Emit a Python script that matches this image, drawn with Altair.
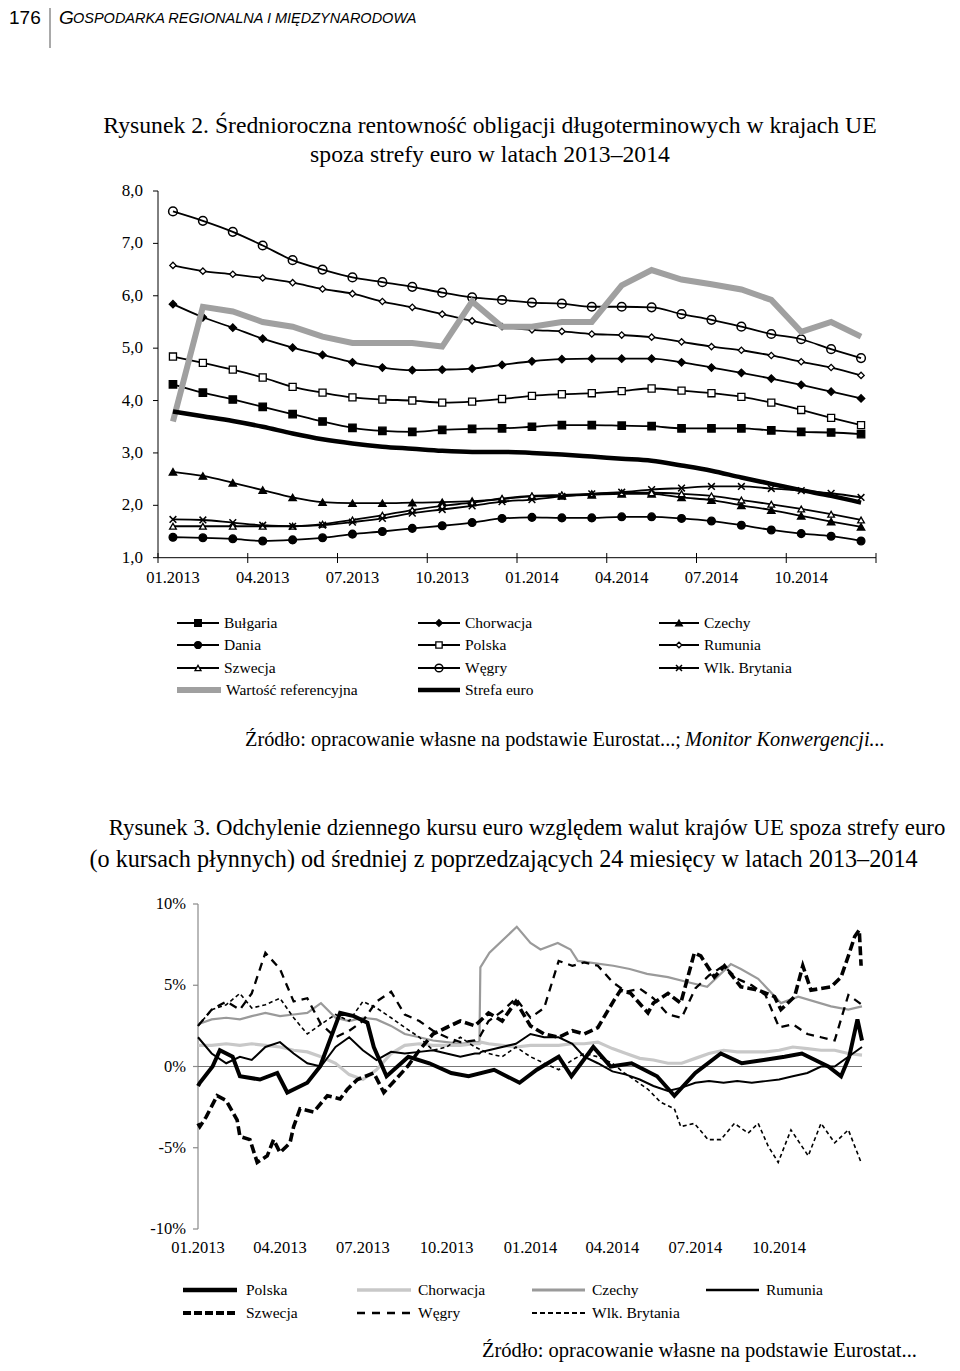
import altair as alt
import pandas as pd

SERIF = "Liberation Serif"
SANS = "Liberation Sans"


def cx(p):
    return p - 8


def cy(p):
    return p - 8


# ---------------- Rysunek 2: monthly yields ----------------
months = ["01.2013", "02.2013", "03.2013", "04.2013", "05.2013", "06.2013",
          "07.2013", "08.2013", "09.2013", "10.2013", "11.2013", "12.2013",
          "01.2014", "02.2014", "03.2014", "04.2014", "05.2014", "06.2014",
          "07.2014", "08.2014", "09.2014", "10.2014", "11.2014", "12.2014"]
top_tick_labels = ["01.2013", "04.2013", "07.2013", "10.2013",
                   "01.2014", "04.2014", "07.2014", "10.2014"]
top_y_ticks = [1, 2, 3, 4, 5, 6, 7, 8]
top_y_labels = ["1,0", "2,0", "3,0", "4,0", "5,0", "6,0", "7,0", "8,0"]

bulgaria = [4.31, 4.15, 4.02, 3.88, 3.74, 3.60, 3.48, 3.42, 3.40, 3.44, 3.46, 3.47,
            3.50, 3.53, 3.53, 3.52, 3.51, 3.47, 3.47, 3.47, 3.43, 3.40, 3.39, 3.36]
chorwacja = [5.84, 5.59, 5.39, 5.18, 5.01, 4.87, 4.73, 4.63, 4.58, 4.59, 4.61, 4.68,
             4.75, 4.79, 4.80, 4.80, 4.80, 4.73, 4.63, 4.53, 4.42, 4.30, 4.17, 4.04]
czechy = [2.64, 2.56, 2.43, 2.29, 2.15, 2.06, 2.04, 2.04, 2.05, 2.06, 2.08, 2.12,
          2.17, 2.18, 2.20, 2.22, 2.22, 2.15, 2.10, 2.00, 1.91, 1.80, 1.69, 1.59]
dania = [1.39, 1.38, 1.36, 1.32, 1.34, 1.38, 1.45, 1.50, 1.56, 1.61, 1.67, 1.75,
         1.77, 1.76, 1.76, 1.78, 1.78, 1.75, 1.70, 1.62, 1.53, 1.46, 1.41, 1.32]
polska = [4.84, 4.72, 4.59, 4.44, 4.26, 4.15, 4.06, 4.02, 4.00, 3.96, 3.98, 4.03,
          4.09, 4.12, 4.14, 4.18, 4.23, 4.19, 4.14, 4.07, 3.96, 3.82, 3.67, 3.53]
rumunia = [6.58, 6.47, 6.41, 6.34, 6.25, 6.13, 6.04, 5.89, 5.78, 5.65, 5.52, 5.41,
           5.35, 5.32, 5.27, 5.25, 5.21, 5.12, 5.03, 4.96, 4.86, 4.74, 4.63, 4.48]
szwecja = [1.60, 1.60, 1.60, 1.60, 1.60, 1.64, 1.72, 1.81, 1.91, 1.99, 2.05, 2.13,
           2.18, 2.20, 2.22, 2.24, 2.24, 2.22, 2.18, 2.10, 2.02, 1.93, 1.83, 1.72]
wegry = [7.61, 7.43, 7.22, 6.96, 6.68, 6.50, 6.35, 6.26, 6.17, 6.06, 5.97, 5.92,
         5.87, 5.85, 5.79, 5.79, 5.78, 5.65, 5.54, 5.41, 5.27, 5.17, 4.98, 4.81]
wlk_brytania = [1.73, 1.72, 1.67, 1.62, 1.60, 1.62, 1.68, 1.75, 1.85, 1.92, 1.99, 2.07,
                2.11, 2.17, 2.22, 2.25, 2.30, 2.33, 2.36, 2.36, 2.32, 2.28, 2.23, 2.15]
wartosc_ref = [3.60, 5.79, 5.70, 5.50, 5.41, 5.22, 5.10, 5.10, 5.10, 5.03, 5.89, 5.41,
               5.41, 5.50, 5.50, 6.20, 6.49, 6.31, 6.22, 6.12, 5.92, 5.31, 5.50, 5.22]
strefa_euro = [3.79, 3.70, 3.61, 3.50, 3.37, 3.26, 3.18, 3.12, 3.08, 3.04, 3.02, 3.02,
               3.00, 2.97, 2.93, 2.89, 2.85, 2.76, 2.66, 2.53, 2.41, 2.29, 2.18, 2.05]

# ---------------- Rysunek 3: deviation of EUR rate (%) ----------------
dates = ["2013-01-01", "2013-01-16", "2013-02-01", "2013-02-16", "2013-03-01", "2013-03-16",
         "2013-04-01", "2013-04-16", "2013-05-01", "2013-05-16", "2013-06-01", "2013-06-16",
         "2013-07-01", "2013-07-16", "2013-08-01", "2013-08-16", "2013-09-01", "2013-09-16",
         "2013-10-01", "2013-10-16", "2013-11-01", "2013-11-06", "2013-11-08", "2013-11-16",
         "2013-12-01", "2013-12-16",
         "2014-01-01", "2014-01-16", "2014-02-01", "2014-02-16", "2014-03-01", "2014-03-16",
         "2014-04-01", "2014-04-16", "2014-05-01", "2014-05-16", "2014-06-01", "2014-06-16",
         "2014-07-01", "2014-07-16", "2014-08-01", "2014-08-16", "2014-09-01", "2014-09-16",
         "2014-10-01", "2014-10-16", "2014-11-01", "2014-11-16", "2014-12-01", "2014-12-16",
         "2014-12-31"]
bottom_tick_dates = ["2013-01-01", "2013-04-01", "2013-07-01", "2013-10-01",
                     "2014-01-01", "2014-04-01", "2014-07-01", "2014-10-01"]
bottom_tick_labels = top_tick_labels
bottom_y_ticks = [-10, -5, 0, 5, 10]
bottom_y_labels = ["-10%", "-5%", "0%", "5%", "10%"]

polska_dates = ["2013-01-01", "2013-01-03", "2013-01-17", "2013-01-25", "2013-02-08", "2013-02-16",
                "2013-03-10", "2013-03-29", "2013-04-09", "2013-05-01", "2013-05-15", "2013-06-06",
                "2013-06-21", "2013-07-06", "2013-07-13", "2013-07-27", "2013-08-20", "2013-09-12",
                "2013-10-06", "2013-10-25", "2013-11-22", "2013-12-20", "2014-01-08", "2014-02-01",
                "2014-02-15", "2014-03-11", "2014-03-30", "2014-04-22", "2014-05-20", "2014-06-08",
                "2014-07-01", "2014-07-29", "2014-08-21", "2014-09-14", "2014-10-07", "2014-10-26",
                "2014-11-24", "2014-12-08", "2014-12-17", "2014-12-26", "2014-12-31"]
d_polska = [-1.2, -1.0, 0.0, 1.0, 0.6, -0.6,
            -0.8, -0.4, -1.6, -1.0, 0.0, 3.3,
            3.1, 2.7, 1.2, -0.6, 0.6, 0.2,
            -0.4, -0.6, -0.2, -1.0, -0.2, 0.6,
            -0.6, 1.2, 0.0, 0.2, -0.6, -1.8,
            -0.4, 0.8, 0.2, 0.4, 0.6, 0.8,
            0.0, -0.6, 0.6, 2.9, 1.6]

d_chorwacja = [1.3, 1.3, 1.4, 1.3, 1.4, 1.3, 1.2, 1.0, 0.9, 0.6,
               0.2, -0.5, -0.8, -0.2, 0.8, 1.3, 1.4, 1.3, 1.3, 1.3,
               1.4, 1.4, 1.5, 1.4, 1.3, 1.2,
               1.3, 1.3, 1.3, 1.4, 1.4, 1.5, 1.1, 0.8, 0.5, 0.4,
               0.2, 0.2, 0.5, 0.8, 1.0, 0.9, 0.9, 0.9, 1.0, 1.2,
               1.1, 1.0, 1.0, 0.8, 0.7]

czechy_dates = ["2013-01-01", "2013-01-16", "2013-02-01", "2013-02-16", "2013-03-01", "2013-03-16",
                "2013-04-01", "2013-04-16", "2013-05-01", "2013-05-16", "2013-06-01", "2013-06-16",
                "2013-07-01", "2013-07-16", "2013-08-01", "2013-08-16", "2013-09-01", "2013-09-16",
                "2013-10-01", "2013-10-16", "2013-11-01", "2013-11-06", "2013-11-07", "2013-11-17",
                "2013-12-17", "2014-01-01", "2014-01-12", "2014-01-31", "2014-02-14", "2014-02-22",
                "2014-04-02", "2014-04-20", "2014-05-09", "2014-06-01", "2014-06-22", "2014-07-14",
                "2014-08-09", "2014-08-20", "2014-09-08", "2014-10-03", "2014-10-22", "2014-11-27",
                "2014-12-16", "2014-12-31"]
d_czechy = [2.6, 2.9, 3.0, 2.9, 3.1, 3.3,
            3.1, 3.2, 3.3, 3.9, 3.0, 2.8,
            3.0, 2.9, 2.5, 2.0, 1.8, 1.6,
            1.5, 1.4, 1.5, 1.5, 6.1, 7.0,
            8.6, 7.6, 7.2, 7.6, 7.2, 6.5,
            6.2, 6.0, 5.7, 5.5, 5.2, 4.9,
            6.3, 6.0, 5.4, 3.9, 4.3, 3.7,
            3.5, 3.7]

d_rumunia = [1.8, 0.8, 0.2, 0.6, 0.4, 1.2, 1.5, 0.8, 0.2, 0.0,
             1.2, 1.8, 1.0, 0.4, 0.9, 0.8, 0.9, 1.0, 0.8, 0.6,
             0.8, 0.8, 0.9, 1.0, 1.2, 1.4,
             2.0, 1.8, 1.8, 1.4, 0.6, 0.2, -0.3, -0.5, -0.8, -1.2,
             -1.5, -1.3, -1.0, -0.9, -1.0, -0.9, -1.0, -0.9, -0.8, -0.6,
             -0.4, 0.0, 0.0, 0.6, 1.2]
d_wegry = [2.5, 3.5, 4.0, 3.5, 4.5, 7.0, 6.0, 4.0, 4.2, 2.6,
           1.8, 2.2, 2.8, 4.0, 4.6, 3.2, 2.8, 2.2, 1.8, 1.5,
           1.6, 1.8, 2.0, 2.8, 3.4, 4.2,
           3.0, 3.6, 6.5, 6.2, 6.4, 6.2, 5.2, 4.6, 4.8, 4.2,
           3.2, 3.0, 4.8, 5.6, 6.2, 5.4, 5.0, 4.4, 2.4, 2.6,
           2.0, 1.8, 1.6, 4.4, 3.8]

szwecja_dates = ["2013-01-01", "2013-01-03", "2013-01-10", "2013-01-22", "2013-02-01", "2013-02-13",
                 "2013-02-16", "2013-02-27", "2013-03-07", "2013-03-18", "2013-03-25", "2013-04-01",
                 "2013-04-12", "2013-04-16", "2013-04-23", "2013-05-08", "2013-05-23", "2013-06-06",
                 "2013-06-14", "2013-06-25", "2013-07-13", "2013-07-24", "2013-08-19", "2013-09-01",
                 "2013-09-16", "2013-10-01", "2013-10-16", "2013-11-01", "2013-11-16", "2013-12-01",
                 "2013-12-16", "2014-01-01", "2014-01-16", "2014-02-01", "2014-02-16", "2014-03-01",
                 "2014-03-16", "2014-04-03", "2014-04-10", "2014-04-21", "2014-05-10", "2014-05-16",
                 "2014-06-01", "2014-06-15", "2014-06-30", "2014-07-07", "2014-07-22", "2014-08-02",
                 "2014-08-20", "2014-09-08", "2014-09-26", "2014-10-03", "2014-10-18", "2014-10-27",
                 "2014-11-05", "2014-11-27", "2014-12-08", "2014-12-16", "2014-12-23", "2014-12-28",
                 "2014-12-30"]
d_szwecja = [-3.5, -3.7, -3.1, -1.8, -2.1, -3.3,
             -4.3, -4.5, -5.9, -5.5, -4.5, -5.3,
             -4.7, -3.7, -2.6, -2.8, -1.8, -2.0,
             -1.4, -0.8, -0.4, -1.6, 0.0, 1.0,
             2.0, 2.4, 2.8, 2.5, 3.3, 2.8,
             4.0, 2.5, 2.0, 1.8, 2.2, 2.0,
             2.4, 4.1, 4.7, 4.5, 3.3, 3.9,
             4.5, 3.9, 7.0, 6.8, 5.5, 6.2,
             4.9, 4.7, 4.3, 3.5, 4.3, 6.2,
             4.7, 4.9, 5.5, 6.8, 8.0, 8.4,
             6.2]

wlk_dates = ["2013-01-01", "2013-01-16", "2013-02-01", "2013-02-16", "2013-03-01", "2013-03-16",
             "2013-04-01", "2013-04-16", "2013-05-01", "2013-05-16", "2013-06-01", "2013-06-16",
             "2013-07-01", "2013-07-16", "2013-08-01", "2013-08-16", "2013-09-01", "2013-09-16",
             "2013-10-01", "2013-10-16", "2013-11-01", "2013-11-16", "2013-12-01", "2013-12-16",
             "2014-01-01", "2014-01-16", "2014-02-01", "2014-02-16", "2014-03-01", "2014-03-16",
             "2014-04-01", "2014-04-14", "2014-05-10", "2014-05-24", "2014-06-08", "2014-06-15",
             "2014-06-30", "2014-07-15", "2014-07-29", "2014-08-13", "2014-08-28", "2014-09-08",
             "2014-09-19", "2014-09-30", "2014-10-14", "2014-11-02", "2014-11-16", "2014-12-01",
             "2014-12-16", "2014-12-23", "2014-12-30"]
d_wlk_brytania = [2.5, 3.5, 3.8, 4.5, 3.6, 3.8,
                  4.2, 3.0, 2.0, 2.6, 3.2, 2.8,
                  4.0, 3.6, 3.0, 2.4, 1.8, 1.0,
                  1.2, 1.8, 1.2, 0.8, 0.6, 1.2,
                  0.6, 0.2, -0.2, 0.4, 0.8, 0.6,
                  0.2, -0.4, -1.4, -2.2, -2.6, -3.7,
                  -3.5, -4.5, -4.5, -3.5, -4.1, -3.5,
                  -4.9, -5.9, -3.9, -5.5, -3.5, -4.7,
                  -3.9, -4.9, -5.9]

# ---------------- scales (explicit pixel ranges on one canvas) ----------------
TX = alt.Scale(domain=[0, 24], range=[cx(158), cx(876)], nice=False, zero=False)
TY = alt.Scale(domain=[1, 8], range=[cy(557.7), cy(191)], nice=False, zero=False)
BX = alt.Scale(domain=[alt.DateTime(year=2013, month=1, date=1, utc=True),
                       alt.DateTime(year=2014, month=12, date=31, utc=True)],
               range=[cx(198), cx(862)], nice=False)
BY = alt.Scale(domain=[-10, 10], range=[cy(1229), cy(904)], nice=False, zero=False)

layers = []
one = pd.DataFrame({"k": [0]})


def text(t, x, y, size, align="left", font=SERIF, style="normal", weight="normal", color="black"):
    return alt.Chart(pd.DataFrame({"t": [t]})).mark_text(
        align=align, baseline="middle", font=font, fontSize=size, fontStyle=style,
        fontWeight=weight, color=color
    ).encode(x=alt.value(cx(x)), y=alt.value(cy(y)), text="t:N")


def seg(x1, x2, y, color="black", width=1.5, dash=None):
    kw = dict(color=color, strokeWidth=width)
    if dash:
        kw["strokeDash"] = dash
    return alt.Chart(one).mark_rule(**kw).encode(
        x=alt.value(cx(x1)), x2=alt.value(cx(x2)), y=alt.value(cy(y)))


XPATH = "M-1,-1L1,1M-1,1L1,-1"


def point_mark(shape, fill, size):
    if fill is None:
        return dict(shape=shape, filled=False, stroke="black", strokeWidth=1.5, size=size, opacity=1)
    return dict(shape=shape, filled=True, fill=fill, stroke="black", strokeWidth=1.3, size=size, opacity=1)


# ---------------- header ----------------
layers.append(text("176", 9, 18, 19, font=SANS))
layers.append(alt.Chart(one).mark_rule(color="#555555", strokeWidth=1).encode(
    x=alt.value(cx(50)), y=alt.value(0), y2=alt.value(cy(48))))
layers.append(text("G", 59, 18, 19, font=SANS, style="italic"))
layers.append(text("OSPODARKA REGIONALNA I MIĘDZYNARODOWA", 73, 19, 14.5, font=SANS, style="italic"))

# ---------------- Rysunek 2 titles ----------------
layers.append(text("Rysunek 2. Średnioroczna rentowność obligacji długoterminowych w krajach UE",
                   490, 126, 23.7, align="center"))
layers.append(text("spoza strefy euro w latach 2013–2014", 490, 155, 23.7, align="center"))

# ---------------- Rysunek 2 axes ----------------
tyax = pd.DataFrame({"v": top_y_ticks, "lab": top_y_labels})
layers.append(alt.Chart(pd.DataFrame({"a": [1], "b": [8]})).mark_rule(color="black", strokeWidth=1).encode(
    x=alt.value(cx(158)), y=alt.Y("a:Q", scale=TY, axis=None), y2="b:Q"))
layers.append(alt.Chart(tyax).mark_rule(color="black", strokeWidth=1).encode(
    x=alt.value(cx(153)), x2=alt.value(cx(158)), y=alt.Y("v:Q", scale=TY, axis=None)))
layers.append(alt.Chart(tyax).mark_text(align="right", baseline="middle", font=SERIF, fontSize=17).encode(
    x=alt.value(cx(143)), y=alt.Y("v:Q", scale=TY, axis=None), text="lab:N"))
layers.append(alt.Chart(pd.DataFrame({"a": [0], "b": [24], "v": [1]})).mark_rule(color="black", strokeWidth=1).encode(
    x=alt.X("a:Q", scale=TX, axis=None), x2="b:Q", y=alt.Y("v:Q", scale=TY, axis=None)))
txt = pd.DataFrame({"p": [0, 3, 6, 9, 12, 15, 18, 21, 24]})
layers.append(alt.Chart(txt).mark_rule(color="black", strokeWidth=1).encode(
    x=alt.X("p:Q", scale=TX, axis=None), y=alt.value(cy(553)), y2=alt.value(cy(563))))
txl = pd.DataFrame({"p": [months.index(m) + 0.5 for m in top_tick_labels], "lab": top_tick_labels})
layers.append(alt.Chart(txl).mark_text(align="center", baseline="middle", font=SERIF, fontSize=16.5).encode(
    x=alt.X("p:Q", scale=TX, axis=None), y=alt.value(cy(578)), text="lab:N"))

# ---------------- Rysunek 2 series ----------------
top_series = [
    ("Bułgaria", bulgaria, "square", "black", 55),
    ("Chorwacja", chorwacja, "diamond", "black", 55),
    ("Czechy", czechy, "triangle-up", "black", 55),
    ("Dania", dania, "circle", "black", 60),
    ("Polska", polska, "square", "white", 50),
    ("Rumunia", rumunia, "diamond", "white", 40),
    ("Szwecja", szwecja, "triangle-up", "white", 45),
    ("Węgry", wegry, "circle", None, 75),
    ("Wlk. Brytania", wlk_brytania, XPATH, None, 45),
]
for name, vals, shape, fill, size in top_series:
    df = pd.DataFrame({"p": [i + 0.5 for i in range(len(vals))], "v": vals})
    enc = dict(x=alt.X("p:Q", scale=TX, axis=None), y=alt.Y("v:Q", scale=TY, axis=None))
    layers.append(alt.Chart(df).mark_line(color="black", strokeWidth=1.8, interpolate="monotone").encode(**enc))
    layers.append(alt.Chart(df).mark_point(**point_mark(shape, fill, size)).encode(**enc))

for vals, color, width, interp in [(wartosc_ref, "#a0a0a0", 6, "linear"),
                                    (strefa_euro, "black", 4.5, "monotone")]:
    df = pd.DataFrame({"p": [i + 0.5 for i in range(len(vals))], "v": vals})
    layers.append(alt.Chart(df).mark_line(color=color, strokeWidth=width, interpolate=interp).encode(
        x=alt.X("p:Q", scale=TX, axis=None), y=alt.Y("v:Q", scale=TY, axis=None)))

# ---------------- Rysunek 2 legend ----------------
cols = [(177, 219, 198, 224), (418, 460, 439, 465), (659, 699, 679, 704)]
rows = [623, 645, 668, 690]
for idx, (name, vals, shape, fill, size) in enumerate(top_series):
    c = cols[idx % 3]
    r = rows[idx // 3]
    layers.append(seg(c[0], c[1], r, width=1.8))
    layers.append(alt.Chart(one).mark_point(**point_mark(shape, fill, size * 0.8)).encode(
        x=alt.value(cx(c[2])), y=alt.value(cy(r))))
    layers.append(text(name, c[3], r, 15.5))
layers.append(seg(cols[0][0], cols[0][1] + 2, rows[3], color="#a0a0a0", width=6))
layers.append(text("Wartość referencyjna", cols[0][3] + 2, rows[3], 15.5))
layers.append(seg(cols[1][0], cols[1][1], rows[3], color="black", width=4.5))
layers.append(text("Strefa euro", cols[1][3], rows[3], 15.5))

# source 1
layers.append(text("Źródło: opracowanie własne na podstawie Eurostat...;", 245, 740, 20.3))
layers.append(text("Monitor Konwergencji...", 685, 740, 20.3, style="italic"))

# ---------------- Rysunek 3 titles ----------------
layers.append(text("Rysunek 3. Odchylenie dziennego kursu euro względem walut krajów UE spoza strefy euro",
                   527, 828, 22.8, align="center"))
layers.append(text("(o kursach płynnych) od średniej z poprzedzających 24 miesięcy w latach 2013–2014",
                   503.5, 860, 24.2, align="center"))

# ---------------- Rysunek 3 axes ----------------
byax = pd.DataFrame({"v": bottom_y_ticks, "lab": bottom_y_labels})
layers.append(alt.Chart(pd.DataFrame({"a": [-10], "b": [10]})).mark_rule(color="#8a8a8a", strokeWidth=1.2).encode(
    x=alt.value(cx(198)), y=alt.Y("a:Q", scale=BY, axis=None), y2="b:Q"))
layers.append(alt.Chart(byax).mark_rule(color="#8a8a8a", strokeWidth=1.2).encode(
    x=alt.value(cx(193)), x2=alt.value(cx(198)), y=alt.Y("v:Q", scale=BY, axis=None)))
layers.append(alt.Chart(byax).mark_text(align="right", baseline="middle", font=SERIF, fontSize=16.5).encode(
    x=alt.value(cx(186)), y=alt.Y("v:Q", scale=BY, axis=None), text="lab:N"))
layers.append(alt.Chart(pd.DataFrame({"a": ["2013-01-01"], "b": ["2014-12-31"], "v": [0]})).mark_rule(
    color="#777777", strokeWidth=1.2).encode(
    x=alt.X("a:T", scale=BX, axis=None), x2="b:T", y=alt.Y("v:Q", scale=BY, axis=None)))
bxl = pd.DataFrame({"d": bottom_tick_dates, "lab": bottom_tick_labels})
layers.append(alt.Chart(bxl).mark_text(align="center", baseline="middle", font=SERIF, fontSize=16.5).encode(
    x=alt.X("d:T", scale=BX, axis=None), y=alt.value(cy(1248)), text="lab:N"))

# ---------------- Rysunek 3 series ----------------
bottom_series = [
    ("Czechy", czechy_dates, d_czechy, "#9a9a9a", 2.2, None),
    ("Chorwacja", dates, d_chorwacja, "#c8c8c8", 3.2, None),
    ("Rumunia", dates, d_rumunia, "black", 2.0, None),
    ("Wlk. Brytania", wlk_dates, d_wlk_brytania, "black", 1.6, [4, 3]),
    ("Węgry", dates, d_wegry, "black", 2.3, [8, 6]),
    ("Szwecja", szwecja_dates, d_szwecja, "black", 3.6, [9, 4]),
    ("Polska", polska_dates, d_polska, "black", 4.0, None),
]
for name, dl, vals, color, width, dash in bottom_series:
    df = pd.DataFrame({"d": dl, "v": vals})
    kw = dict(color=color, strokeWidth=width)
    if dash:
        kw["strokeDash"] = dash
    layers.append(alt.Chart(df).mark_line(**kw).encode(
        x=alt.X("d:T", scale=BX, axis=None), y=alt.Y("v:Q", scale=BY, axis=None)))

# ---------------- Rysunek 3 legend ----------------
legend_b = [
    ("Polska", 183, 237, 246, 1290, "black", 4.5, None),
    ("Chorwacja", 357, 411, 418, 1290, "#c8c8c8", 3.5, None),
    ("Czechy", 532, 585, 592, 1290, "#9a9a9a", 3.0, None),
    ("Rumunia", 706, 759, 766, 1290, "black", 2.5, None),
    ("Szwecja", 183, 237, 246, 1313, "black", 4.0, [8, 3]),
    ("Węgry", 357, 411, 418, 1313, "black", 2.5, [8, 7]),
    ("Wlk. Brytania", 532, 585, 592, 1313, "black", 2.0, [5, 3]),
]
for name, x1, x2, xt, y, color, width, dash in legend_b:
    layers.append(seg(x1, x2, y, color=color, width=width, dash=dash))
    layers.append(text(name, xt, y, 15.5))

layers.append(text("Źródło: opracowanie własne na podstawie Eurostat...", 482, 1351, 20.5))

chart = alt.layer(*layers).resolve_scale(x="independent", y="independent").properties(
    width=944, height=1355, autosize=alt.AutoSizeParams(type="none"), padding=0
).configure_view(strokeWidth=0)

chart.save("out.html", embed_options={"renderer": "svg", "actions": False})
